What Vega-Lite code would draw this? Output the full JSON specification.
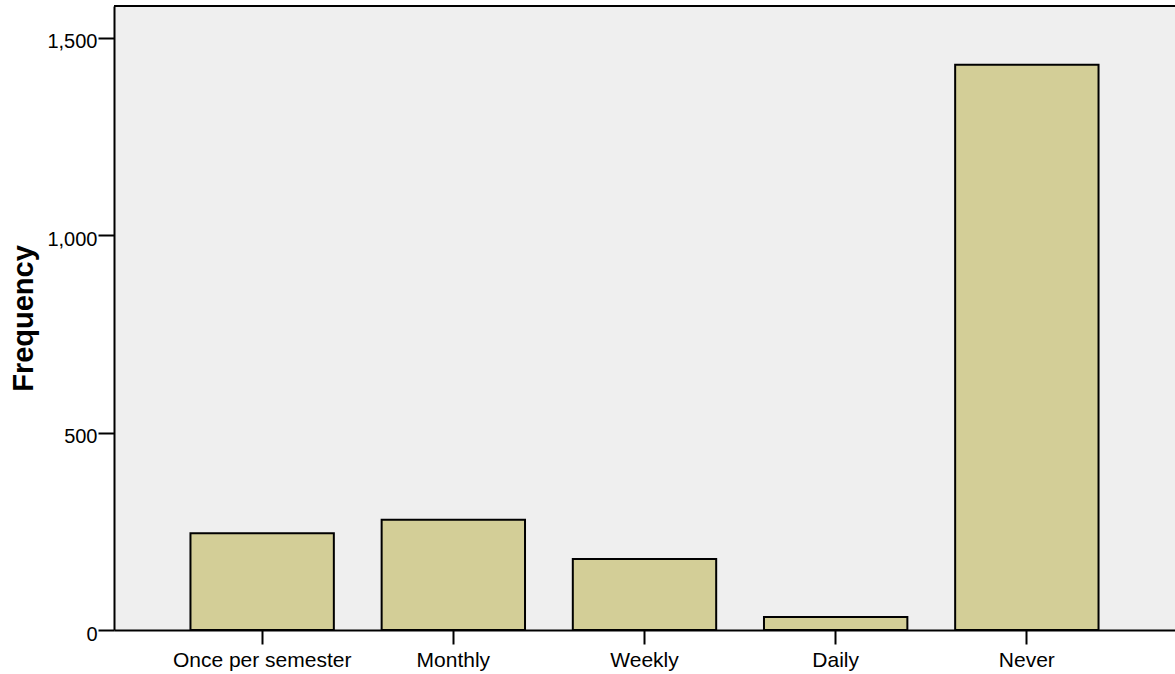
{
  "$schema": "https://vega.github.io/schema/vega-lite/v6.json",
  "width": 1061,
  "height": 624,
  "autosize": "none",
  "padding": {"left": 114, "top": 6, "right": 0, "bottom": 44},
  "background": "white",
  "config": {
    "view": {"fill": "#EFEFEF", "stroke": null},
    "font": "Liberation Sans"
  },
  "data": {
    "values": [
      {"category": "Once per semester", "frequency": 245},
      {"category": "Monthly", "frequency": 279},
      {"category": "Weekly", "frequency": 180},
      {"category": "Daily", "frequency": 33},
      {"category": "Never", "frequency": 1431}
    ]
  },
  "layer": [
    {
      "mark": {"type": "bar", "fill": "#D3CE97", "stroke": "black", "strokeWidth": 2},
      "encoding": {
        "x": {
          "field": "category",
          "type": "nominal",
          "sort": null,
          "scale": {"paddingInner": 0.25, "paddingOuter": 0.4},
          "axis": {
            "title": null,
            "labelAngle": 0,
            "labelFontSize": 21,
            "labelColor": "black",
            "labelPadding": 5,
            "domain": true,
            "domainColor": "black",
            "domainWidth": 2,
            "tickColor": "black",
            "tickWidth": 2,
            "tickSize": 14,
            "grid": false
          }
        },
        "y": {
          "field": "frequency",
          "type": "quantitative",
          "scale": {"domain": [0, 1580], "nice": false},
          "axis": {
            "title": "Frequency",
            "titleFontSize": 29,
            "titleFontWeight": "bold",
            "titleColor": "black",
            "titlePadding": 8,
            "values": [0, 500, 1000, 1500],
            "format": ",d",
            "labelFontSize": 20,
            "labelColor": "black",
            "labelPadding": 1,
            "labelOffset": 4,
            "domain": true,
            "domainColor": "black",
            "domainWidth": 2,
            "tickColor": "black",
            "tickWidth": 2,
            "tickSize": 16,
            "grid": false
          }
        }
      }
    },
    {
      "mark": {"type": "rule", "color": "black", "strokeWidth": 2},
      "data": {"values": [{"y": 1580}]},
      "encoding": {"y": {"field": "y", "type": "quantitative"}}
    }
  ]
}
